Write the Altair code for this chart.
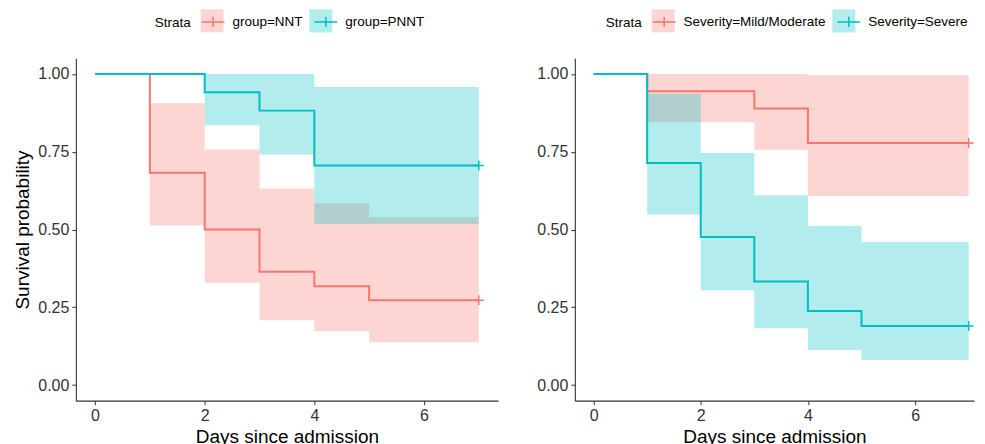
import altair as alt
import pandas as pd

# ---------------- Left panel: group ----------------
left_labels = ["group=NNT", "group=PNNT"]

nnt_time = [0, 1, 2, 3, 4, 5, 7]
nnt_surv = [1.0, 0.682, 0.500, 0.364, 0.318, 0.273, 0.273]
nnt_ci_time = [1, 2, 3, 4, 5, 7]
nnt_lower = [0.513, 0.329, 0.208, 0.173, 0.138, 0.138]
nnt_upper = [0.906, 0.757, 0.632, 0.584, 0.539, 0.539]

pnnt_time = [0, 2, 3, 4, 7]
pnnt_surv = [1.0, 0.941, 0.882, 0.706, 0.706]
pnnt_ci_time = [2, 3, 4, 7]
pnnt_lower = [0.835, 0.741, 0.518, 0.518]
pnnt_upper = [1.0, 1.0, 0.958, 0.958]

# ---------------- Right panel: severity ----------------
right_labels = ["Severity=Mild/Moderate", "Severity=Severe"]

mild_time = [0, 1, 3, 4, 7]
mild_surv = [1.0, 0.944, 0.889, 0.778, 0.778]
mild_ci_time = [1, 3, 4, 7]
mild_lower = [0.845, 0.756, 0.608, 0.608]
mild_upper = [1.0, 1.0, 0.996, 0.996]

sev_time = [0, 1, 2, 3, 4, 5, 7]
sev_surv = [1.0, 0.714, 0.476, 0.333, 0.238, 0.190, 0.190]
sev_ci_time = [1, 2, 3, 4, 5, 7]
sev_lower = [0.548, 0.305, 0.183, 0.113, 0.081, 0.081]
sev_upper = [0.936, 0.746, 0.610, 0.512, 0.459, 0.459]

censor_time = 7

x_ticks = [0, 2, 4, 6]
y_ticks = [0.0, 0.25, 0.5, 0.75, 1.0]
colors = ["#F8766D", "#00BFC4"]

FONT = "Liberation Sans"
CROSS = "M-1,0H1M0,-0.45V0.45M-1,-1M1,1"


def line_df(times, survs, label):
    return pd.DataFrame({"time": times, "surv": survs, "Strata": label})


def band_df(times, lows, ups, label):
    return pd.DataFrame({"time": times, "lower": lows, "upper": ups, "Band": label})


def panel(lines, bands, censors, legend_x, x_domain, width, y_title):
    x_enc = alt.X(
        "time:Q",
        scale=alt.Scale(domain=x_domain, nice=False, zero=False),
        axis=alt.Axis(values=x_ticks, title="Days since admission"),
    )
    y_axis = alt.Axis(values=y_ticks, format=".2f", title=y_title)
    y_scale = alt.Scale(domain=[-0.05, 1.05], nice=False, zero=False)

    common_leg = dict(
        orient="none", legendX=legend_x, legendY=-49, direction="horizontal",
        title="Strata", titleOrient="left", titleBaseline="middle",
        titleFontSize=13.5, labelFontSize=13.5, titleFontWeight="normal",
        titleFont=FONT, labelFont=FONT, symbolSize=529, labelOffset=7,
        columnPadding=8, titlePadding=9,
    )
    fill_leg = alt.Legend(
        symbolType="square", symbolOpacity=0.3, symbolStrokeWidth=0,
        labelColor="transparent", titleColor="transparent", **common_leg,
    )
    stroke_leg = alt.Legend(
        symbolType=CROSS, symbolStrokeWidth=1.5, symbolFillColor="transparent",
        labelColor="#000000", titleColor="#000000", **common_leg,
    )

    band = alt.Chart(bands).mark_area(interpolate="step-after", opacity=0.3).encode(
        x=x_enc,
        y=alt.Y("lower:Q", scale=y_scale, axis=y_axis),
        y2="upper:Q",
        fill=alt.Fill("Band:N", scale=alt.Scale(range=colors), legend=fill_leg),
    )
    stroke_enc = alt.Stroke("Strata:N", scale=alt.Scale(range=colors), legend=stroke_leg)
    line = alt.Chart(lines).mark_line(interpolate="step-after", strokeWidth=2).encode(
        x=x_enc,
        y=alt.Y("surv:Q", scale=y_scale, axis=y_axis),
        stroke=stroke_enc,
    )
    cens = alt.Chart(censors).mark_point(
        shape="M-1,0H1M0,-1V1", size=100, filled=False, strokeWidth=1.5, opacity=1
    ).encode(
        x=x_enc,
        y=alt.Y("surv:Q", scale=y_scale, axis=y_axis),
        stroke=stroke_enc,
    )
    return alt.layer(band, line, cens).properties(width=width, height=343)


left_lines = pd.concat([
    line_df(nnt_time, nnt_surv, left_labels[0]),
    line_df(pnnt_time, pnnt_surv, left_labels[1]),
])
left_bands = pd.concat([
    band_df(nnt_ci_time, nnt_lower, nnt_upper, left_labels[0]),
    band_df(pnnt_ci_time, pnnt_lower, pnnt_upper, left_labels[1]),
])
left_cens = pd.DataFrame({
    "time": [censor_time, censor_time],
    "surv": [nnt_surv[-1], pnnt_surv[-1]],
    "Strata": left_labels,
})

right_lines = pd.concat([
    line_df(mild_time, mild_surv, right_labels[0]),
    line_df(sev_time, sev_surv, right_labels[1]),
])
right_bands = pd.concat([
    band_df(mild_ci_time, mild_lower, mild_upper, right_labels[0]),
    band_df(sev_ci_time, sev_lower, sev_upper, right_labels[1]),
])
right_cens = pd.DataFrame({
    "time": [censor_time, censor_time],
    "surv": [mild_surv[-1], sev_surv[-1]],
    "Strata": right_labels,
})

left = panel(left_lines, left_bands, left_cens, 79, [-0.35, 7.35], 423, "Survival probability")
right = panel(right_lines, right_bands, right_cens, 31, [-0.35, 7.1], 400, None)

chart = alt.hconcat(left, right, spacing=38).resolve_scale(
    fill="independent", stroke="independent"
).resolve_legend(fill="independent", stroke="independent").properties(
    padding={"left": 5, "top": 1, "right": 0, "bottom": 0},
    background="white",
).configure_view(stroke=None).configure_axis(
    grid=False,
    domainColor="#333333",
    domainWidth=1.1,
    tickColor="#333333",
    tickSize=4,
    labelColor="#333333",
    labelFont=FONT,
    labelFontSize=16,
    labelPadding=3,
    titleFont=FONT,
    titleFontSize=19,
    titleFontWeight="normal",
    titleColor="#000000",
).configure_axisX(titlePadding=4).configure_axisY(titlePadding=5)

chart.save("out.html", embed_options={"renderer": "svg", "actions": False})
